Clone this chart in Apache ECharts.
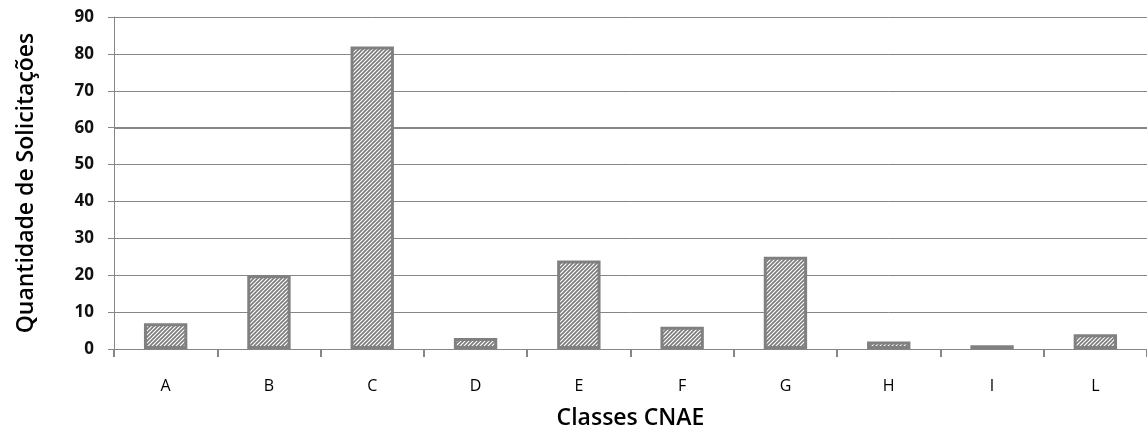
<!DOCTYPE html>
<html>
<head>
<meta charset="utf-8">
<script src="https://cdn.jsdelivr.net/npm/echarts@6/dist/echarts.min.js"></script>
<style>
html,body{margin:0;padding:0;background:#fff;}
#chart{width:1147px;height:435px;}
</style>
</head>
<body>
<div id="chart"></div>
<script>
const categories = ['A','B','C','D','E','F','G','H','I','L'];
const values = [7, 20, 82, 3, 24, 6, 25, 2, 1, 4];
const xAxisTitle = 'Classes CNAE';
const yAxisTitle = 'Quantidade de Solicitações';
const emphasisLine = 60;

function makeHatch(){
  const c = document.createElement('canvas');
  c.width = 4; c.height = 4;
  const ctx = c.getContext('2d');
  ctx.fillStyle = '#ffffff';
  ctx.fillRect(0,0,4,4);
  ctx.strokeStyle = '#7a7a7a';
  ctx.lineWidth = 1.6;
  ctx.beginPath();
  ctx.moveTo(-1,5); ctx.lineTo(5,-1);
  ctx.moveTo(-1,1); ctx.lineTo(1,-1);
  ctx.moveTo(3,5); ctx.lineTo(5,3);
  ctx.stroke();
  return c;
}

const chart = echarts.init(document.getElementById('chart'), null, {renderer:'canvas'});
const font = '"Open Sans", "Noto Sans", sans-serif';
chart.setOption({
  animation:false,
  backgroundColor:'#ffffff',
  grid:{left:114, right:0, top:17, bottom:84, containLabel:false},
  xAxis:{
    type:'category',
    data:categories,
    name:xAxisTitle,
    nameLocation:'middle',
    nameGap:58,
    nameTextStyle:{fontFamily:font, fontSize:23, color:'#000', fontWeight:600},
    axisLine:{lineStyle:{color:'#868686', width:1}},
    axisTick:{show:true, length:8, lineStyle:{color:'#868686', width:2}},
    axisLabel:{fontFamily:font, fontSize:16, color:'#000', margin:29}
  },
  yAxis:{
    type:'value',
    min:0, max:90, interval:10,
    name:yAxisTitle,
    nameLocation:'middle',
    nameGap:76,
    nameTextStyle:{fontFamily:font, fontSize:23, color:'#000', fontWeight:600},
    axisLine:{show:true, lineStyle:{color:'#868686', width:1}},
    axisTick:{show:true, length:6, lineStyle:{color:'#868686'}},
    axisLabel:{fontFamily:font, fontSize:17, color:'#111', fontWeight:'bold', margin:20},
    splitLine:{show:true, lineStyle:{color:'#868686', width:1}}
  },
  series:[{
    type:'bar',
    data:values,
    barWidth:'42%',
    itemStyle:{
      color:{image:makeHatch(), repeat:'repeat'},
      borderColor:'#808080',
      borderWidth:3
    },
    markLine:{
      silent:true,
      symbol:['none','none'],
      label:{show:false},
      lineStyle:{color:'#868686', width:2, type:'solid'},
      z:1,
      data:[{yAxis:emphasisLine}]
    }
  }]
});
</script>
</body>
</html>
